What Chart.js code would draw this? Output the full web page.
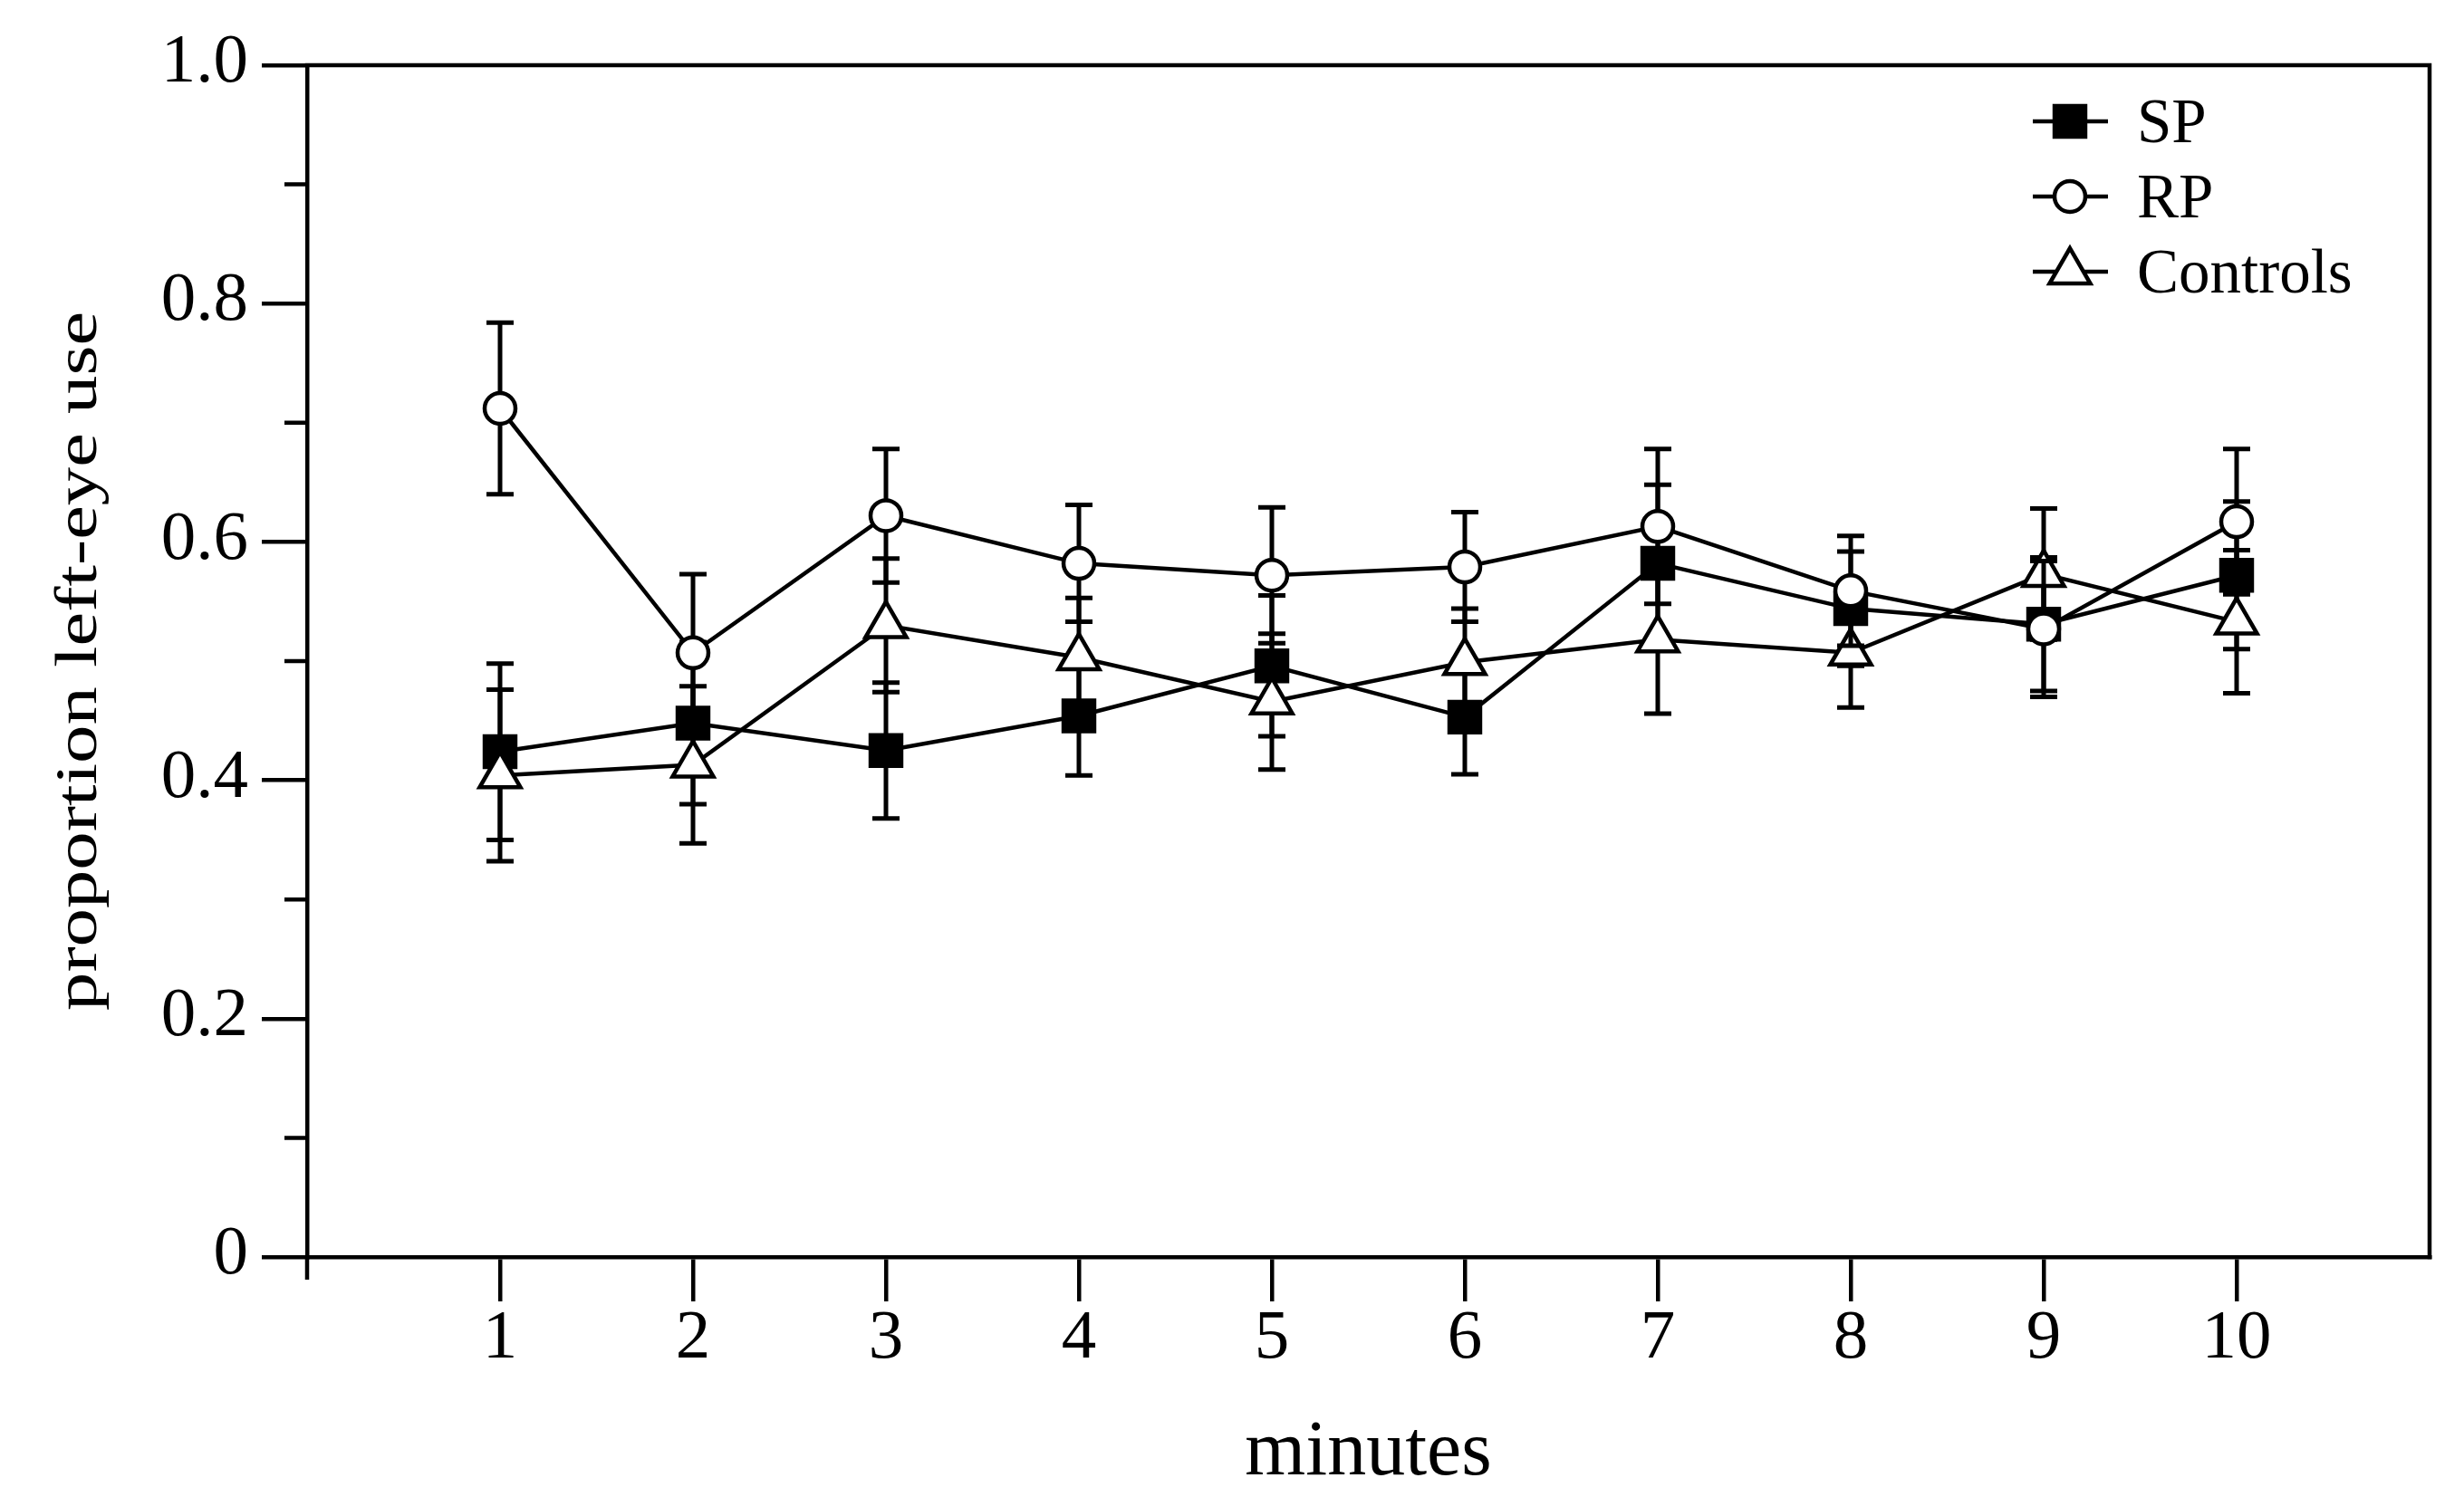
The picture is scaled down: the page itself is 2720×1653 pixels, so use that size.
<!DOCTYPE html>
<html>
<head>
<meta charset="utf-8">
<script src="https://cdn.jsdelivr.net/npm/chart.js@4.4.1/dist/chart.umd.min.js"></script>
<style>
html,body{margin:0;padding:0;background:#ffffff;overflow:hidden;}
#wrap{width:2720px;height:1653px;position:relative;}
canvas{display:block;}
</style>
</head>
<body>
<div id="wrap"><canvas id="c" width="2720" height="1653" style="width:2720px;height:1653px"></canvas></div>
<script>
// ---------------- data ----------------
const minutes = [1, 2, 3, 4, 5, 6, 7, 8, 9, 10];
const xTickLabels = ['1', '2', '3', '4', '5', '6', '7', '8', '9', '10'];
const yTickValues = [0, 0.2, 0.4, 0.6, 0.8, 1.0];
const yTickLabels = ['0', '0.2', '0.4', '0.6', '0.8', '1.0'];
const yMinorTickValues = [0.1, 0.3, 0.5, 0.7, 0.9];
const seriesNames = ['SP', 'RP', 'Controls'];

const spMean = [0.424, 0.448, 0.425, 0.454, 0.496, 0.453, 0.582, 0.544, 0.531, 0.572];
const spErr  = [0.074, 0.068, 0.057, 0.050, 0.059, 0.048, 0.066, 0.048, 0.056, 0.062];
const rpMean = [0.712, 0.507, 0.622, 0.582, 0.572, 0.579, 0.613, 0.559, 0.527, 0.617];
const rpErr  = [0.072, 0.066, 0.056, 0.049, 0.057, 0.046, 0.065, 0.046, 0.057, 0.061];
const ctMean = [0.404, 0.413, 0.530, 0.503, 0.466, 0.499, 0.518, 0.507, 0.573, 0.533];
const ctErr  = [0.072, 0.066, 0.056, 0.050, 0.057, 0.045, 0.062, 0.046, 0.055, 0.060];

const xLabel = 'minutes';
const yLabel = 'proportion left-eye use';

// ---------------- helpers ----------------
const FONT = "'Liberation Serif', 'Times New Roman', serif";
const LW = 4.5;

function pts(mean) { return minutes.map((m, i) => ({ x: m, y: mean[i] })); }

function drawMarker(ctx, style, r, x, y) {
  ctx.save();
  ctx.lineWidth = LW;
  ctx.strokeStyle = '#000';
  ctx.beginPath();
  if (style === 'rect') {
    const s = Math.SQRT1_2 * r;
    ctx.rect(x - s, y - s, 2 * s, 2 * s);
    ctx.fillStyle = '#000';
  } else if (style === 'circle') {
    ctx.arc(x, y, r, 0, Math.PI * 2);
    ctx.fillStyle = '#fff';
  } else {
    let rad = 0;
    ctx.moveTo(x + Math.sin(rad) * r, y - Math.cos(rad) * r);
    rad += 2 * Math.PI / 3;
    ctx.lineTo(x + Math.sin(rad) * r, y - Math.cos(rad) * r);
    rad += 2 * Math.PI / 3;
    ctx.lineTo(x + Math.sin(rad) * r, y - Math.cos(rad) * r);
    ctx.closePath();
    ctx.fillStyle = '#fff';
  }
  ctx.fill();
  ctx.stroke();
  ctx.restore();
}

// ---------------- plugins ----------------
const errorBars = {
  id: 'errorBars',
  beforeDatasetDraw(chart, args) {
    const ds = chart.data.datasets[args.index];
    const errs = ds.errors;
    if (!errs) return;
    const { ctx } = chart;
    const xs = chart.scales.x, ys = chart.scales.y;
    ctx.save();
    ctx.strokeStyle = '#000';
    ctx.lineWidth = 5;
    ctx.lineCap = 'butt';
    ds.data.forEach((p, i) => {
      const px = xs.getPixelForValue(p.x);
      const top = ys.getPixelForValue(p.y + errs[i]);
      const bot = ys.getPixelForValue(p.y - errs[i]);
      ctx.beginPath();
      ctx.moveTo(px, top); ctx.lineTo(px, bot);
      ctx.moveTo(px - 15, top); ctx.lineTo(px + 15, top);
      ctx.moveTo(px - 15, bot); ctx.lineTo(px + 15, bot);
      ctx.stroke();
    });
    ctx.restore();
  }
};

const frame = {
  id: 'frame',
  beforeDatasetsDraw(chart) {
    const { ctx, chartArea: a } = chart;
    const ys = chart.scales.y;
    ctx.save();
    ctx.strokeStyle = '#000';
    ctx.lineWidth = LW;
    ctx.lineCap = 'square';
    ctx.beginPath();
    ctx.moveTo(a.left, a.top); ctx.lineTo(a.right, a.top);
    ctx.lineTo(a.right, a.bottom);
    ctx.stroke();
    ctx.lineCap = 'butt';
    ctx.beginPath();
    ctx.moveTo(a.left, a.bottom); ctx.lineTo(a.left, a.bottom + 25);
    yMinorTickValues.forEach(v => {
      const py = ys.getPixelForValue(v);
      ctx.moveTo(a.left - 25, py); ctx.lineTo(a.left, py);
    });
    ctx.stroke();
    ctx.restore();
  }
};

const annotations = {
  id: 'annotations',
  afterDraw(chart) {
    const { ctx, chartArea: a } = chart;
    ctx.save();
    ctx.fillStyle = '#000';
    ctx.font = '65px ' + FONT;
    ctx.textAlign = 'center';
    ctx.textBaseline = 'alphabetic';
    ctx.translate(106, (a.top + a.bottom) / 2);
    ctx.rotate(-Math.PI / 2);
    const natural = ctx.measureText(yLabel).width;
    ctx.scale(772 / natural, 1);
    ctx.fillText(yLabel, 0, 0);
    ctx.restore();

    const lx0 = a.right - 438, lx1 = a.right - 355, mx = a.right - 397, tx = a.right - 323;
    chart.data.datasets.forEach((ds, i) => {
      const ry = a.top + 62 + 83 * i;
      ctx.save();
      ctx.strokeStyle = '#000';
      ctx.lineWidth = LW;
      ctx.beginPath();
      ctx.moveTo(lx0, ry); ctx.lineTo(lx1, ry);
      ctx.stroke();
      ctx.restore();
      drawMarker(ctx, ds.pointStyle, ds.pointRadius, mx, ry);
      ctx.save();
      ctx.fillStyle = '#000';
      ctx.font = '69px ' + FONT;
      ctx.textAlign = 'left';
      ctx.textBaseline = 'alphabetic';
      ctx.fillText(ds.label, tx, ry + 23);
      ctx.restore();
    });
  }
};

// ---------------- chart ----------------
const common = {
  borderColor: '#000',
  borderWidth: LW,
  tension: 0,
  pointBorderColor: '#000',
  pointBorderWidth: LW,
  fill: false
};

new Chart(document.getElementById('c'), {
  type: 'line',
  data: {
    datasets: [
      Object.assign({}, common, {
        label: seriesNames[0], data: pts(spMean), errors: spErr,
        pointStyle: 'rect', pointRadius: 24, pointBackgroundColor: '#000', order: 3
      }),
      Object.assign({}, common, {
        label: seriesNames[1], data: pts(rpMean), errors: rpErr,
        pointStyle: 'circle', pointRadius: 17, pointBackgroundColor: '#fff', order: 1
      }),
      Object.assign({}, common, {
        label: seriesNames[2], data: pts(ctMean), errors: ctErr,
        pointStyle: 'triangle', pointRadius: 26, pointBackgroundColor: '#fff', order: 2
      })
    ]
  },
  options: {
    responsive: false,
    animation: false,
    devicePixelRatio: 1,
    layout: { padding: { left: 0, right: 38, top: 72, bottom: 0 } },
    plugins: { legend: { display: false }, tooltip: { enabled: false } },
    events: [],
    scales: {
      x: {
        type: 'linear',
        min: 0, max: 11,
        afterBuildTicks: s => { s.ticks = minutes.map(v => ({ value: v })); },
        afterFit: s => { s.height = 265; },
        grid: { drawOnChartArea: false, tickLength: 49, lineWidth: LW, tickWidth: LW, tickColor: '#000', color: '#000' },
        border: { display: true, color: '#000', width: LW },
        ticks: {
          color: '#000',
          font: { family: FONT, size: 77, lineHeight: 1.0 },
          padding: 3,
          maxRotation: 0,
          autoSkip: false,
          callback: (v) => { const i = minutes.indexOf(v); return i >= 0 ? xTickLabels[i] : ''; }
        },
        title: {
          display: true, text: xLabel, color: '#000',
          font: { family: FONT, size: 86, lineHeight: 1.2 },
          padding: { top: 0, bottom: -4 }
        }
      },
      y: {
        type: 'linear',
        min: 0, max: 1,
        afterBuildTicks: s => { s.ticks = yTickValues.map(v => ({ value: v })); },
        afterFit: s => { s.width = 339; },
        grid: { drawOnChartArea: false, tickLength: 50, lineWidth: LW, tickWidth: LW, tickColor: '#000', color: '#000' },
        border: { display: true, color: '#000', width: LW },
        ticks: {
          color: '#000',
          font: { family: FONT, size: 77 },
          padding: 15,
          labelOffset: -2,
          autoSkip: false,
          callback: (v) => { const i = yTickValues.findIndex(t => Math.abs(t - v) < 1e-9); return i >= 0 ? yTickLabels[i] : ''; }
        }
      }
    }
  },
  plugins: [errorBars, frame, annotations]
});
</script>
</body>
</html>
